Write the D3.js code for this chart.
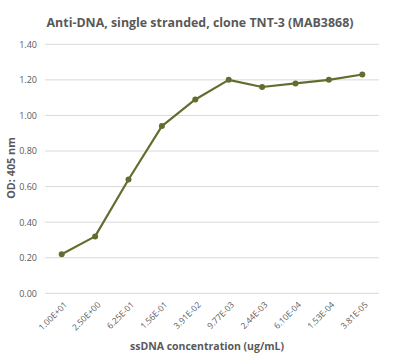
<!DOCTYPE html>
<html><head><meta charset="utf-8">
<script src="https://cdn.jsdelivr.net/npm/d3@7"></script>
<style>body{margin:0;background:#fff}</style>
</head><body>
<svg id="c" width="395" height="360"></svg>
<script>
const categories = ["1.00E+01","2.50E+00","6.25E-01","1.56E-01","3.91E-02","9.77E-03","2.44E-03","6.10E-04","1.53E-04","3.81E-05"];
const values = [0.22,0.32,0.64,0.94,1.09,1.20,1.16,1.18,1.20,1.23];
const yTicks = [0,0.2,0.4,0.6,0.8,1.0,1.2,1.4];
const title = "Anti-DNA, single stranded, clone TNT-3 (MAB3868)";
const xTitle = "ssDNA concentration (ug/mL)";
const yTitle = "OD: 405 nm";

(function(){
const svg = d3.select("#c");
const font = "'Open Sans', 'Liberation Sans', sans-serif";
const pl = 45, pr = 379, pt = 44.3, pb = 293.3;
const x = d3.scaleBand().domain(categories).range([pl, pr]);
const y = d3.scaleLinear().domain([0, 1.4]).range([pb, pt]);

svg.append("g").selectAll("line").data(yTicks).join("line")
  .attr("x1", pl).attr("x2", pr)
  .attr("y1", d => y(d)).attr("y2", d => y(d))
  .attr("stroke", "#d9d9d9").attr("stroke-width", 1);

const yAxis = svg.append("g").attr("transform", `translate(${pl},0)`)
  .call(d3.axisLeft(y).tickValues(yTicks).tickFormat(d3.format(".2f")).tickSize(0).tickPadding(8));
yAxis.select(".domain").remove();
yAxis.selectAll("text").attr("fill", "#595959").style("font-family", font).style("font-size", "9px");

const xAxis = svg.append("g").attr("transform", `translate(0,${pb})`)
  .call(d3.axisBottom(x).tickSize(0).tickPadding(0));
xAxis.select(".domain").remove();
xAxis.selectAll("text")
  .attr("fill", "#595959").style("font-family", font).style("font-size", "8.5px")
  .attr("text-anchor", "end").attr("dy", "0.35em")
  .attr("transform", "translate(4,10) rotate(-45)").attr("y", 0).attr("x", 0);

const col = "#646d30";
svg.append("path").datum(values)
  .attr("fill", "none").attr("stroke", col).attr("stroke-width", 2.2).attr("stroke-linejoin", "round")
  .attr("d", d3.line().x((d, i) => x(categories[i]) + x.bandwidth() / 2).y(d => y(d)));
svg.append("g").selectAll("circle").data(values).join("circle")
  .attr("cx", (d, i) => x(categories[i]) + x.bandwidth() / 2).attr("cy", d => y(d))
  .attr("r", 3).attr("fill", col);

svg.append("text").attr("x", 200).attr("y", 27).attr("text-anchor", "middle")
  .attr("fill", "#595959").style("font-family", font).style("font-weight", "bold").style("font-size", "12.4px")
  .text(title);
svg.append("text").attr("x", 207).attr("y", 350).attr("text-anchor", "middle")
  .attr("fill", "#595959").style("font-family", font).style("font-weight", "bold").style("font-size", "10.5px")
  .text(xTitle);
svg.append("text").attr("transform", "translate(15,168) rotate(-90)").attr("text-anchor", "middle")
  .attr("fill", "#595959").style("font-family", font).style("font-weight", "bold").style("font-size", "10.8px")
  .text(yTitle);
})();
</script>
</body></html>
